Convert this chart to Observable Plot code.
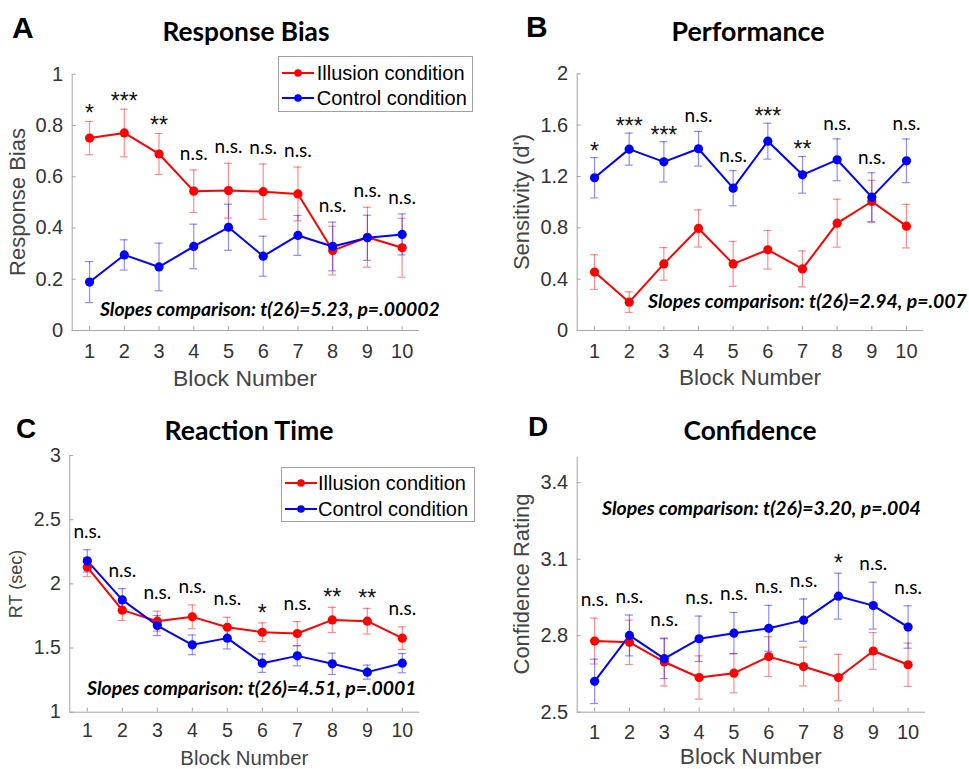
<!DOCTYPE html>
<html>
<head>
<meta charset="utf-8">
<script src="https://cdn.jsdelivr.net/npm/d3@7"></script>
<script src="https://cdn.jsdelivr.net/npm/@observablehq/plot@0.6"></script>
<style>
  html, body { margin: 0; padding: 0; background: #fff; }
  #fig { position: relative; width: 969px; height: 769px; background: #fff; overflow: hidden; }
  #fig svg { position: absolute; }
  .t { position: absolute; white-space: nowrap; line-height: 1; }
</style>
</head>
<body>
<div id="fig"></div>
<script>
// ---------- data ----------
const blocks = [1, 2, 3, 4, 5, 6, 7, 8, 9, 10];
const conditions = ["Illusion condition", "Control condition"];
const colors = ["#ff0000", "#0000ff"];

// A: Response Bias
const biasIllusion   = [0.751, 0.771, 0.689, 0.544, 0.546, 0.542, 0.533, 0.312, 0.364, 0.323];
const biasIllusionSE = [0.065, 0.093, 0.080, 0.083, 0.107, 0.108, 0.105, 0.095, 0.117, 0.115];
const biasControl    = [0.189, 0.295, 0.248, 0.328, 0.403, 0.290, 0.371, 0.328, 0.362, 0.375];
const biasControlSE  = [0.080, 0.059, 0.093, 0.087, 0.090, 0.078, 0.078, 0.095, 0.088, 0.080];
const biasSig = ["*", "***", "**", "n.s.", "n.s.", "n.s.", "n.s.", "n.s.", "n.s.", "n.s."];
const biasTicks = [0, 0.2, 0.4, 0.6, 0.8, 1];

// B: Performance
const perfIllusion   = [0.455, 0.221, 0.519, 0.795, 0.519, 0.629, 0.480, 0.836, 1.005, 0.813];
const perfIllusionSE = [0.135, 0.080, 0.127, 0.145, 0.175, 0.150, 0.140, 0.187, 0.165, 0.170];
const perfControl    = [1.190, 1.413, 1.314, 1.416, 1.109, 1.475, 1.213, 1.330, 1.039, 1.322];
const perfControlSE  = [0.157, 0.125, 0.157, 0.135, 0.137, 0.140, 0.143, 0.163, 0.190, 0.170];
const perfSig = ["*", "***", "***", "n.s.", "n.s.", "***", "**", "n.s.", "n.s.", "n.s."];
const perfTicks = [0, 0.4, 0.8, 1.2, 1.6, 2];

// C: Reaction Time
const rtIllusion   = [2.130, 1.795, 1.709, 1.743, 1.662, 1.623, 1.613, 1.719, 1.709, 1.577];
const rtIllusionSE = [0.073, 0.080, 0.078, 0.093, 0.077, 0.073, 0.093, 0.098, 0.100, 0.088];
const rtControl    = [2.179, 1.875, 1.675, 1.525, 1.577, 1.382, 1.439, 1.377, 1.312, 1.382];
const rtControlSE  = [0.087, 0.088, 0.078, 0.077, 0.084, 0.072, 0.078, 0.083, 0.055, 0.075];
const rtSig = ["n.s.", "n.s.", "n.s.", "n.s.", "n.s.", "*", "n.s.", "**", "**", "n.s."];
const rtTicks = [1, 1.5, 2, 2.5, 3];

// D: Confidence
const confIllusion   = [2.779, 2.774, 2.697, 2.636, 2.653, 2.718, 2.679, 2.636, 2.740, 2.686];
const confIllusionSE = [0.090, 0.087, 0.094, 0.085, 0.077, 0.078, 0.076, 0.091, 0.072, 0.085];
const confControl    = [2.621, 2.801, 2.710, 2.788, 2.810, 2.829, 2.861, 2.955, 2.918, 2.834];
const confControlSE  = [0.087, 0.080, 0.078, 0.089, 0.081, 0.090, 0.083, 0.090, 0.092, 0.083];
const confSig = ["n.s.", "n.s.", "n.s.", "n.s.", "n.s.", "n.s.", "n.s.", "*", "n.s.", "n.s."];
const confTicks = [2.5, 2.8, 3.1, 3.4];

// ---------- helpers ----------
const fig = document.getElementById("fig");
const ARIAL = "'Liberation Sans', Arial, sans-serif";
const LATO = "Lato, 'Open Sans', sans-serif";
const ASC = {arial: 0.8465, lato: 0.887};

function addText(str, {x, y, size, fam = "arial", weight = "normal", style = "normal", color = "#000", anchor = "start", fit = null}) {
  const d = document.createElement("div");
  d.className = "t";
  d.textContent = str;
  d.style.fontFamily = fam === "lato" ? LATO : ARIAL;
  d.style.fontWeight = weight;
  d.style.fontStyle = style;
  d.style.color = color;
  d.style.fontSize = size + "px";
  if (anchor === "end") {
    d.style.right = (969 - x) + "px";
  } else {
    d.style.left = x + "px";
    if (anchor === "middle") d.style.transform = "translateX(-50%)";
  }
  fig.appendChild(d);
  if (fit) {
    const w = d.getBoundingClientRect().width;
    if (w > 0) size = size * fit / w;
    d.style.fontSize = size + "px";
  }
  d.style.top = (y - ASC[fam] * size) + "px";
}
function addVText(str, {cx, cy, size, color = "#444"}) {
  const d = document.createElement("div");
  d.className = "t";
  d.textContent = str;
  d.style.fontFamily = ARIAL;
  d.style.fontSize = size + "px";
  d.style.color = color;
  d.style.left = cx + "px";
  d.style.top = cy + "px";
  d.style.transform = "translate(-50%,-50%) rotate(-90deg)";
  fig.appendChild(d);
}
function addLegend(x, y, w, h, rowYs, textX) {
  const box = document.createElement("div");
  box.style.cssText = `position:absolute;left:${x}px;top:${y}px;width:${w}px;height:${h}px;border:1px solid #a0a0a0;background:#fff;box-sizing:border-box;`;
  fig.appendChild(box);
  conditions.forEach((c, i) => {
    const s = document.createElementNS("http://www.w3.org/2000/svg", "svg");
    s.setAttribute("width", 34); s.setAttribute("height", 10);
    s.style.cssText = `position:absolute;left:${x + 3}px;top:${rowYs[i] - 5}px;`;
    s.innerHTML = `<line x1="1" y1="5" x2="33" y2="5" stroke="${colors[i]}" stroke-width="2"/><circle cx="17" cy="5" r="3.8" fill="${colors[i]}"/>`;
    fig.appendChild(s);
    addText(c, {x: textX, y: rowYs[i] + 7.2, size: 20});
  });
}

function panel(p) {
  const rows = blocks.flatMap((b, i) => [
    {block: b, mean: p.illusion[i], se: p.illusionSE[i], cond: conditions[0]},
    {block: b, mean: p.control[i], se: p.controlSE[i], cond: conditions[1]}
  ]);
  const sigRows = blocks.map((b, i) => ({
    block: b, label: p.sig[i],
    top: Math.max(p.illusion[i] + p.illusionSE[i], p.control[i] + p.controlSE[i])
  }));
  const cap = 0.115;
  const svg = Plot.plot({
    width: p.width, height: p.height,
    marginLeft: p.mL, marginRight: p.mR, marginTop: p.mT, marginBottom: p.mB,
    x: {domain: [0.5, 10.5], axis: null},
    y: {domain: p.yDomain, axis: null},
    color: {domain: conditions, range: colors},
    style: {fontFamily: ARIAL, fontSize: p.tickSize + "px", color: "#333", background: "transparent", overflow: "visible"},
    marks: [
      Plot.ruleY([p.yDomain[0]], {stroke: "#a6a6a6", strokeWidth: 1}),
      Plot.ruleX([0.5], {stroke: "#a6a6a6", strokeWidth: 1}),
      Plot.axisX({ticks: blocks, tickSize: -4, tickFormat: () => "", stroke: "#a6a6a6", label: null}),
      Plot.axisX({ticks: blocks, tickSize: 0, tickPadding: p.xPad, tickFormat: d => String(d), label: null}),
      Plot.axisY({ticks: p.yTicks, tickSize: -4, tickFormat: () => "", stroke: "#a6a6a6", label: null}),
      Plot.axisY({ticks: p.yTicks, tickSize: 0, tickPadding: 9, tickFormat: d => String(d), label: null}),
      // error bars
      Plot.ruleX(rows, {x: "block", y1: d => d.mean - d.se, y2: d => d.mean + d.se, stroke: "cond", strokeOpacity: 0.45, strokeWidth: 1.2}),
      Plot.ruleY(rows, {y: d => d.mean + d.se, x1: d => d.block - cap, x2: d => d.block + cap, stroke: "cond", strokeOpacity: 0.45, strokeWidth: 1.2}),
      Plot.ruleY(rows, {y: d => d.mean - d.se, x1: d => d.block - cap, x2: d => d.block + cap, stroke: "cond", strokeOpacity: 0.45, strokeWidth: 1.2}),
      // lines + markers
      Plot.line(rows, {x: "block", y: "mean", z: "cond", stroke: "cond", strokeWidth: 2}),
      Plot.dot(rows, {x: "block", y: "mean", fill: "cond", r: 4.6}),
      // significance labels
      Plot.text(sigRows.filter(d => d.label === "n.s."), {x: "block", y: "top", text: "label", lineAnchor: "bottom", dy: -p.gap, fontFamily: LATO, fontSize: 19, fill: "#000"}),
      Plot.text(sigRows.filter(d => d.label !== "n.s."), {x: "block", y: "top", text: "label", lineAnchor: "bottom", dy: -p.gap + 10, fontFamily: ARIAL, fontSize: 23, fill: "#111", letterSpacing: "1px"})
    ]
  });
  svg.style.left = p.left + "px";
  svg.style.top = p.top + "px";
  fig.appendChild(svg);
}

// ---------- panels ----------
panel({illusion: biasIllusion, illusionSE: biasIllusionSE, control: biasControl, controlSE: biasControlSE, sig: biasSig,
  yDomain: [0, 1], yTicks: biasTicks, left: 0, top: 0, width: 484, height: 395,
  mL: 71.7, mR: 65, mT: 73.8, mB: 65, gap: 10, tickSize: 20, xPad: 13});
panel({illusion: perfIllusion, illusionSE: perfIllusionSE, control: perfControl, controlSE: perfControlSE, sig: perfSig,
  yDomain: [0, 2], yTicks: perfTicks, left: 484, top: 0, width: 485, height: 395,
  mL: 92.7, mR: 45.7, mT: 73.3, mB: 65, gap: 9, tickSize: 20, xPad: 13});
panel({illusion: rtIllusion, illusionSE: rtIllusionSE, control: rtControl, controlSE: rtControlSE, sig: rtSig,
  yDomain: [1, 3], yTicks: rtTicks, left: 0, top: 395, width: 484, height: 374,
  mL: 69.3, mR: 64.7, mT: 60, mB: 57.3, gap: 12, tickSize: 19.5, xPad: 11});
panel({illusion: confIllusion, illusionSE: confIllusionSE, control: confControl, controlSE: confControlSE, sig: confSig,
  yDomain: [2.5, 3.5], yTicks: confTicks, left: 484, top: 395, width: 485, height: 374,
  mL: 92.7, mR: 44, mT: 61.7, mB: 57.3, gap: 12, tickSize: 20, xPad: 13});

// ---------- texts ----------
addText("A", {x: 12, y: 38, size: 30, weight: "bold"});
addText("B", {x: 526, y: 37, size: 30, weight: "bold"});
addText("C", {x: 16, y: 439, size: 28, weight: "bold"});
addText("D", {x: 528, y: 437, size: 28, weight: "bold"});

addText("Response Bias", {x: 246, y: 41.7, size: 25, fam: "lato", weight: "bold", anchor: "middle", fit: 167});
addText("Performance", {x: 748, y: 41.7, size: 25, fam: "lato", weight: "bold", anchor: "middle", fit: 153});
addText("Reaction Time", {x: 249, y: 440.7, size: 25, fam: "lato", weight: "bold", anchor: "middle", fit: 169});
addText("Confidence", {x: 750, y: 440.7, size: 25, fam: "lato", weight: "bold", anchor: "middle", fit: 133});

addText("Block Number", {x: 245, y: 386, size: 22, color: "#444", anchor: "middle", fit: 144});
addText("Block Number", {x: 750, y: 386, size: 22, color: "#444", anchor: "middle", fit: 142});
addText("Block Number", {x: 244.3, y: 765, size: 20, color: "#444", anchor: "middle", fit: 128});
addText("Block Number", {x: 750.8, y: 765, size: 22, color: "#444", anchor: "middle", fit: 142});

addVText("Response Bias", {cx: 17.5, cy: 202, size: 22});
addVText("Sensitivity (d')", {cx: 522, cy: 202, size: 22});
addVText("RT (sec)", {cx: 15.5, cy: 584, size: 18});
addVText("Confidence Rating", {cx: 522, cy: 583.5, size: 22});

addText("Slopes comparison: t(26)=5.23, p=.00002", {x: 100, y: 316, size: 18, fam: "lato", weight: "bold", style: "italic", fit: 340});
addText("Slopes comparison: t(26)=2.94, p=.007", {x: 648, y: 308.3, size: 18, fam: "lato", weight: "bold", style: "italic", fit: 319});
addText("Slopes comparison: t(26)=4.51, p=.0001", {x: 87, y: 695.7, size: 18, fam: "lato", weight: "bold", style: "italic", fit: 330});
addText("Slopes comparison: t(26)=3.20, p=.004", {x: 602, y: 515, size: 18, fam: "lato", weight: "bold", style: "italic", fit: 319});

addLegend(278, 56, 195, 56, [72.7, 97.5], 316.7);
addLegend(281, 467, 194, 55, [483, 509], 318);
</script>
</body>
</html>
